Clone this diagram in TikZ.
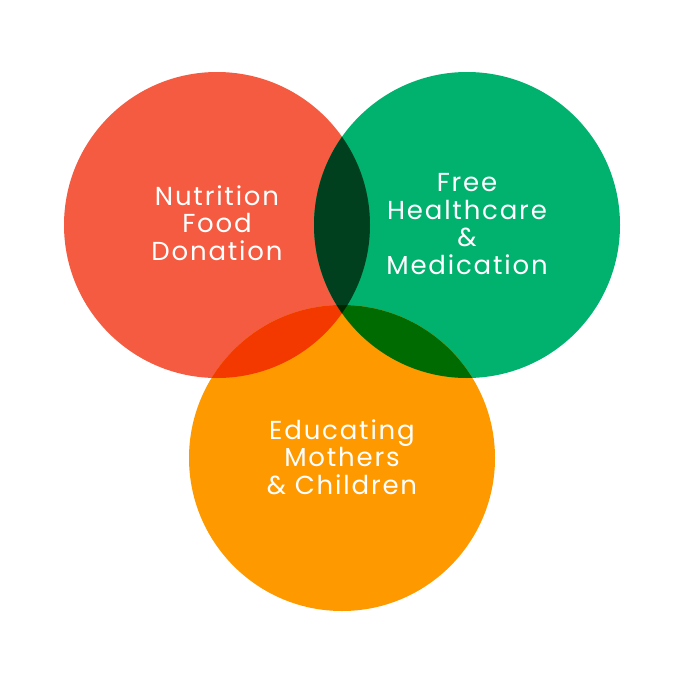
\documentclass[tikz,border=0pt]{standalone}
\usepackage{fontspec}
\setmainfont{Poppins}[LetterSpace=7]
\definecolor{cred}{HTML}{F45B40}
\definecolor{cgreen}{HTML}{00B26E}
\definecolor{corange}{HTML}{FF9900}
\definecolor{crg}{HTML}{00401F}
\definecolor{cro}{HTML}{F33800}
\definecolor{cgo}{HTML}{006B00}
\definecolor{crgo}{HTML}{002600}
\tikzset{lbl/.style={text=white,align=center,font=\fontsize{26}{27.5}\selectfont}}
\begin{document}
\begin{tikzpicture}[x=1pt,y=-1pt]
\useasboundingbox (0,0) rectangle (683,683);
\def\R{153}
\coordinate (cr) at (217,225);
\coordinate (cg) at (467,225);
\coordinate (co) at (342,458);
\fill[cred] (cr) circle (\R);
\fill[cgreen] (cg) circle (\R);
\fill[corange] (co) circle (\R);
\begin{scope}
\clip (cr) circle (\R);
\fill[crg] (cg) circle (\R);
\fill[cro] (co) circle (\R);
\end{scope}
\begin{scope}
\clip (cg) circle (\R);
\fill[cgo] (co) circle (\R);
\end{scope}
\begin{scope}
\clip (cr) circle (\R);
\clip (cg) circle (\R);
\fill[crgo] (co) circle (\R);
\end{scope}
\node[lbl] (t1) at (217,223) {Nutrition\\Food\\Donation};
\node[lbl] (t2) at (467,224) {Free\\Healthcare\\\&\\Medication};
\node[lbl] (t3) at (342,457) {Educating\\Mothers\\\& Children};
\end{tikzpicture}
\end{document}
